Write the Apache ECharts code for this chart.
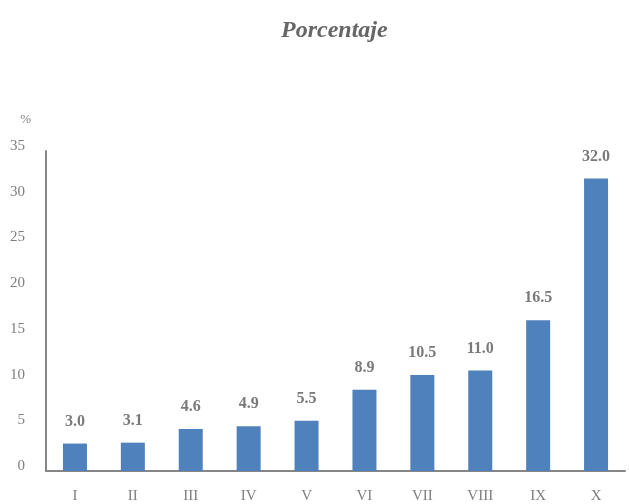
<!DOCTYPE html>
<html><head><meta charset="utf-8">
<script src="https://cdn.jsdelivr.net/npm/echarts@6/dist/echarts.min.js"></script>
<style>html,body{margin:0;padding:0;background:#fff}#c{width:629px;height:504px}</style>
</head><body><div id="c"></div>
<script>
const categories = ['I','II','III','IV','V','VI','VII','VIII','IX','X'];
const values = [3.0, 3.1, 4.6, 4.9, 5.5, 8.9, 10.5, 11.0, 16.5, 32.0];
const yTicks = {min: 0, max: 35, interval: 5};
const serif = '"Liberation Serif", "DejaVu Serif", serif';
const chart = echarts.init(document.getElementById('c'), null, {renderer: 'canvas'});
chart.setOption({
  animation: false,
  title: {
    text: 'Porcentaje', left: 276, top: 14,
    textStyle: {fontFamily: serif, fontStyle: 'italic', fontWeight: 'bold', fontSize: 24, color: '#666666'}
  },
  grid: {left: 46, right: 4, top: 151, bottom: 29},
  xAxis: {
    type: 'category', data: categories,
    axisLine: {lineStyle: {color: '#868686', width: 2}},
    axisTick: {show: false},
    axisLabel: {fontFamily: serif, fontSize: 15, color: '#7f7f7f', margin: 18}
  },
  yAxis: {
    type: 'value', min: yTicks.min, max: yTicks.max, interval: yTicks.interval,
    name: '%', nameLocation: 'end', nameGap: 25,
    nameTextStyle: {fontFamily: serif, fontSize: 13, color: '#7f7f7f', align: 'right', padding: [0, 15, 0, 0]},
    axisLine: {show: true, lineStyle: {color: '#868686', width: 2}},
    axisTick: {show: false},
    splitLine: {show: false},
    axisLabel: {fontFamily: serif, fontSize: 15, color: '#7f7f7f', margin: 21, verticalAlign: 'bottom', lineHeight: 10}
  },
  series: [{
    type: 'bar', data: values, barWidth: 24,
    itemStyle: {color: '#4F81BD'},
    label: {
      show: true, position: 'top', distance: 14,
      formatter: p => p.value.toFixed(1),
      fontFamily: serif, fontWeight: 'bold', fontSize: 16, color: '#7a7a7a'
    }
  }]
});
</script></body></html>
